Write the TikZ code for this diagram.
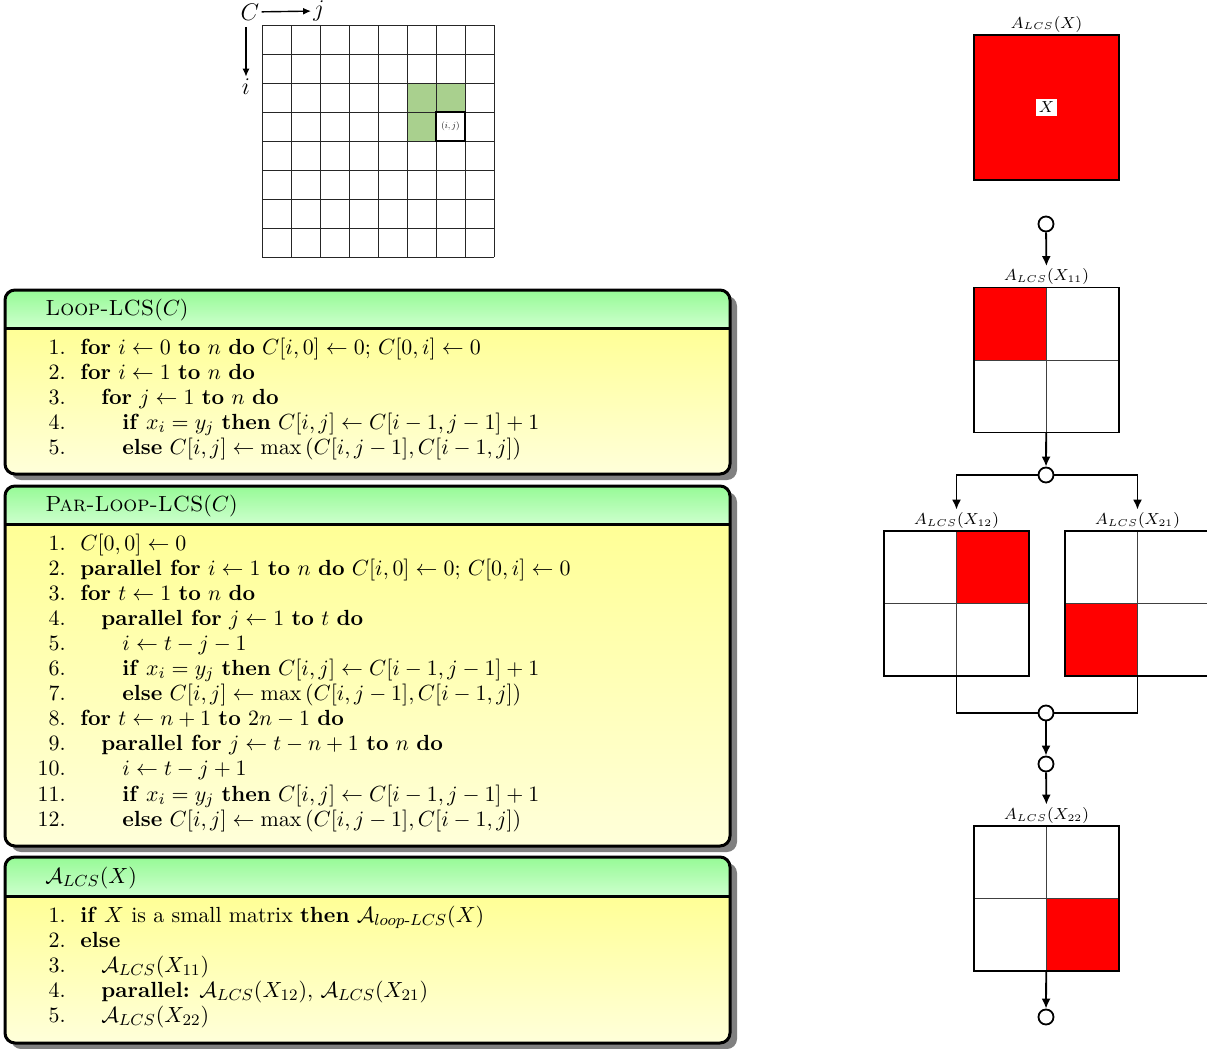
\documentclass[tikz,border=0pt]{standalone}
\usepackage{amsmath}
\usepackage{amssymb}
\usepackage{graphicx}
\usetikzlibrary{arrows.meta,positioning}
\definecolor{cellgreen}{RGB}{169,208,142}
\definecolor{headtop}{RGB}{150,250,150}
\definecolor{headbot}{RGB}{205,255,205}
\definecolor{bodytop}{RGB}{255,255,150}
\definecolor{bodybot}{RGB}{255,255,218}
\definecolor{blockred}{RGB}{255,0,0}
\definecolor{shadowgray}{RGB}{128,128,128}
\newcommand{\algfont}{\fontsize{10.95}{12.5}\selectfont}
\newcommand{\lcs}[1]{A_{\scriptscriptstyle LCS}(#1)}
\tikzset{
  % tabelle oben
  gridline/.style  = {line width=0.5pt, draw=black!85},
  gridarrow/.style = {line width=0.7pt, -{Latex[length=4pt,width=3.5pt]}},
  % algorithmus-kaesten
  algframe/.style  = {line width=1.5pt, rounded corners=5pt},
  algtitle/.style  = {anchor=base west, inner sep=0pt, font=\algfont},
  algnum/.style    = {anchor=base east, inner sep=0pt, font=\algfont},
  algcode/.style   = {anchor=base west, inner sep=0pt, font=\algfont},
  % bloecke rechts
  blk/.style       = {draw, line width=0.6pt, minimum size=72.5pt, inner sep=0pt},
  quad/.style      = {blk, path picture={
      \fill[blockred] (path picture bounding box.#1) rectangle (path picture bounding box.center);
      \draw[line width=0.5pt, black!75] (path picture bounding box.north) -- (path picture bounding box.south)
        (path picture bounding box.west) -- (path picture bounding box.east);}},
  blklab/.style    = {font=\footnotesize, inner sep=1pt},
  joint/.style     = {circle, draw, line width=0.9pt, fill=white, minimum size=7.5pt, inner sep=0pt},
  flow/.style      = {line width=0.9pt, -{Latex[length=5pt,width=4.5pt]}},
  flowline/.style  = {line width=0.9pt},
}

\begin{document}
\begin{tikzpicture}[x=0.5pt,y=-0.5pt]
  \clip (0,0) rectangle (1207,1049);

  % Tabelle C
  \fill[cellgreen] (407,83) rectangle (465,112);
  \fill[cellgreen] (407,112) rectangle (436,141);
  \foreach \k in {0,...,8} {
    \draw[gridline] ({262+29*\k},25) -- ({262+29*\k},257);
    \draw[gridline] (262,{25+29*\k}) -- (494,{25+29*\k});
  }
  \draw[line width=1.3pt] (436,112) rectangle (465,141);
  \node[inner sep=0pt] (cij) at (450.5,126.5) {\scalebox{0.45}{$(i,j)$}};
  \node[inner sep=1pt, font=\large] (cC) at (250,12) {$C$};
  \node[inner sep=1pt, font=\large] (cj) at (319,11) {$j$};
  \node[inner sep=1pt, font=\large] (ci) at (246,87) {$i$};
  \coordinate (cdown) at (246,27);
  \draw[gridarrow] (cC) -- (cj);
  \draw[gridarrow] (cdown) -- (ci);

  % Kasten 1: Loop-LCS
  \fill[shadowgray, rounded corners=5pt] (11,296) rectangle (737,480);
  \begin{scope}
    \clip[rounded corners=5pt] (5,290) rectangle (730,474);
    \shade[top color=headtop, bottom color=headbot] (5,290) rectangle (730,328);
    \shade[top color=bodytop, bottom color=bodybot] (5,328) rectangle (730,474);
  \end{scope}
  \draw[algframe] (5,290) rectangle (730,474);
  \draw[line width=1.5pt] (5,328) -- (730,328);
  \node[algtitle] (t1) at (45,315) {\textsc{Loop-LCS}$(C)$};
  \foreach \ind/\txt [count=\k] in {
    0/{\textbf{for} $i \gets 0$ \textbf{to} $n$ \textbf{do} $C[i,0] \gets 0;\, C[0,i] \gets 0$},
    0/{\textbf{for} $i \gets 1$ \textbf{to} $n$ \textbf{do}},
    1/{\textbf{for} $j \gets 1$ \textbf{to} $n$ \textbf{do}},
    2/{\textbf{if} $x_i = y_j$ \textbf{then} $C[i,j] \gets C[i-1,j-1]+1$},
    2/{\textbf{else} $C[i,j] \gets \max\left(C[i,j-1],C[i-1,j]\right)$}
  }{
    \node[algnum] (a1n\k) at (66,{354+25*(\k-1)}) {\k.};
    \node[algcode] (a1c\k) at ({80+21*\ind},{354+25*(\k-1)}) {\txt};
  }

  % Kasten 2: Par-Loop-LCS
  \fill[shadowgray, rounded corners=5pt] (11,492) rectangle (737,852);
  \begin{scope}
    \clip[rounded corners=5pt] (5,486) rectangle (730,846);
    \shade[top color=headtop, bottom color=headbot] (5,486) rectangle (730,524);
    \shade[top color=bodytop, bottom color=bodybot] (5,524) rectangle (730,846);
  \end{scope}
  \draw[algframe] (5,486) rectangle (730,846);
  \draw[line width=1.5pt] (5,524) -- (730,524);
  \node[algtitle] (t2) at (45,511) {\textsc{Par-Loop-LCS}$(C)$};
  \foreach \ind/\txt [count=\k] in {
    0/{$C[0,0] \gets 0$},
    0/{\textbf{parallel for} $i \gets 1$ \textbf{to} $n$ \textbf{do} $C[i,0] \gets 0;\, C[0,i] \gets 0$},
    0/{\textbf{for} $t \gets 1$ \textbf{to} $n$ \textbf{do}},
    1/{\textbf{parallel for} $j \gets 1$ \textbf{to} $t$ \textbf{do}},
    2/{$i \gets t-j-1$},
    2/{\textbf{if} $x_i = y_j$ \textbf{then} $C[i,j] \gets C[i-1,j-1]+1$},
    2/{\textbf{else} $C[i,j] \gets \max\left(C[i,j-1],C[i-1,j]\right)$},
    0/{\textbf{for} $t \gets n+1$ \textbf{to} $2n-1$ \textbf{do}},
    1/{\textbf{parallel for} $j \gets t-n+1$ \textbf{to} $n$ \textbf{do}},
    2/{$i \gets t-j+1$},
    2/{\textbf{if} $x_i = y_j$ \textbf{then} $C[i,j] \gets C[i-1,j-1]+1$},
    2/{\textbf{else} $C[i,j] \gets \max\left(C[i,j-1],C[i-1,j]\right)$}
  }{
    \node[algnum] (a2n\k) at (66,{550+25.1*(\k-1)}) {\k.};
    \node[algcode] (a2c\k) at ({80+21*\ind},{550+25.1*(\k-1)}) {\txt};
  }

  % Kasten 3: A_LCS
  \fill[shadowgray, rounded corners=5pt] (11,863) rectangle (737,1049);
  \begin{scope}
    \clip[rounded corners=5pt] (5,857) rectangle (730,1043);
    \shade[top color=headtop, bottom color=headbot] (5,857) rectangle (730,896);
    \shade[top color=bodytop, bottom color=bodybot] (5,896) rectangle (730,1043);
  \end{scope}
  \draw[algframe] (5,857) rectangle (730,1043);
  \draw[line width=1.5pt] (5,896) -- (730,896);
  \node[algtitle] (t3) at (45,883) {$\mathcal{A}_{LCS}(X)$};
  \foreach \ind/\txt [count=\k] in {
    0/{\textbf{if} $X$ is a small matrix \textbf{then} $\mathcal{A}_{loop\text{-}LCS}(X)$},
    0/{\textbf{else}},
    1/{$\mathcal{A}_{LCS}(X_{11})$},
    1/{\textbf{parallel:} $\mathcal{A}_{LCS}(X_{12}),\, \mathcal{A}_{LCS}(X_{21})$},
    1/{$\mathcal{A}_{LCS}(X_{22})$}
  }{
    \node[algnum] (a3n\k) at (66,{922+25*(\k-1)}) {\k.};
    \node[algcode] (a3c\k) at ({80+21*\ind},{922+25*(\k-1)}) {\txt};
  }

  % Bloecke rechts
  \node[blk, fill=blockred] (bX) at (1046.5,107.5) {};
  \node[fill=white, inner sep=1.5pt, font=\footnotesize] (xX) at (bX.center) {$X$};
  \node[blklab, above=0pt of bX] (lX) {$\lcs{X}$};
  \node[joint] (c1) at (1046,224) {};

  \node[quad=north west] (b11) at (1046.5,360) {};
  \node[blklab, above=0pt of b11] (l11) {$\lcs{X_{\scriptscriptstyle 11}}$};
  \node[joint] (c2) at (1046,475) {};

  \node[quad=north east] (b12) at (956.5,603.5) {};
  \node[blklab, above=0pt of b12] (l12) {$\lcs{X_{\scriptscriptstyle 12}}$};
  \node[quad=south west] (b21) at (1137.5,603.5) {};
  \node[blklab, above=0pt of b21] (l21) {$\lcs{X_{\scriptscriptstyle 21}}$};
  \node[joint] (c3) at (1046,713) {};
  \node[joint] (c4) at (1046,764) {};

  \node[quad=south east] (b22) at (1046.5,898.5) {};
  \node[blklab, above=0pt of b22] (l22) {$\lcs{X_{\scriptscriptstyle 22}}$};
  \node[joint] (c5) at (1046,1017) {};

  % Verbindungen
  \draw[flow] (c1) -- (l11);
  \draw[flow] (b11) -- (c2);
  \draw[flow] (c2.west) -| (l12.north);
  \draw[flow] (c2.east) -| (l21.north);
  \draw[flowline] (b12.south) |- (c3.west);
  \draw[flowline] (b21.south) |- (c3.east);
  \draw[flow] (c3) -- (c4);
  \draw[flow] (c4) -- (l22);
  \draw[flow] (b22) -- (c5);
\end{tikzpicture}
\end{document}
